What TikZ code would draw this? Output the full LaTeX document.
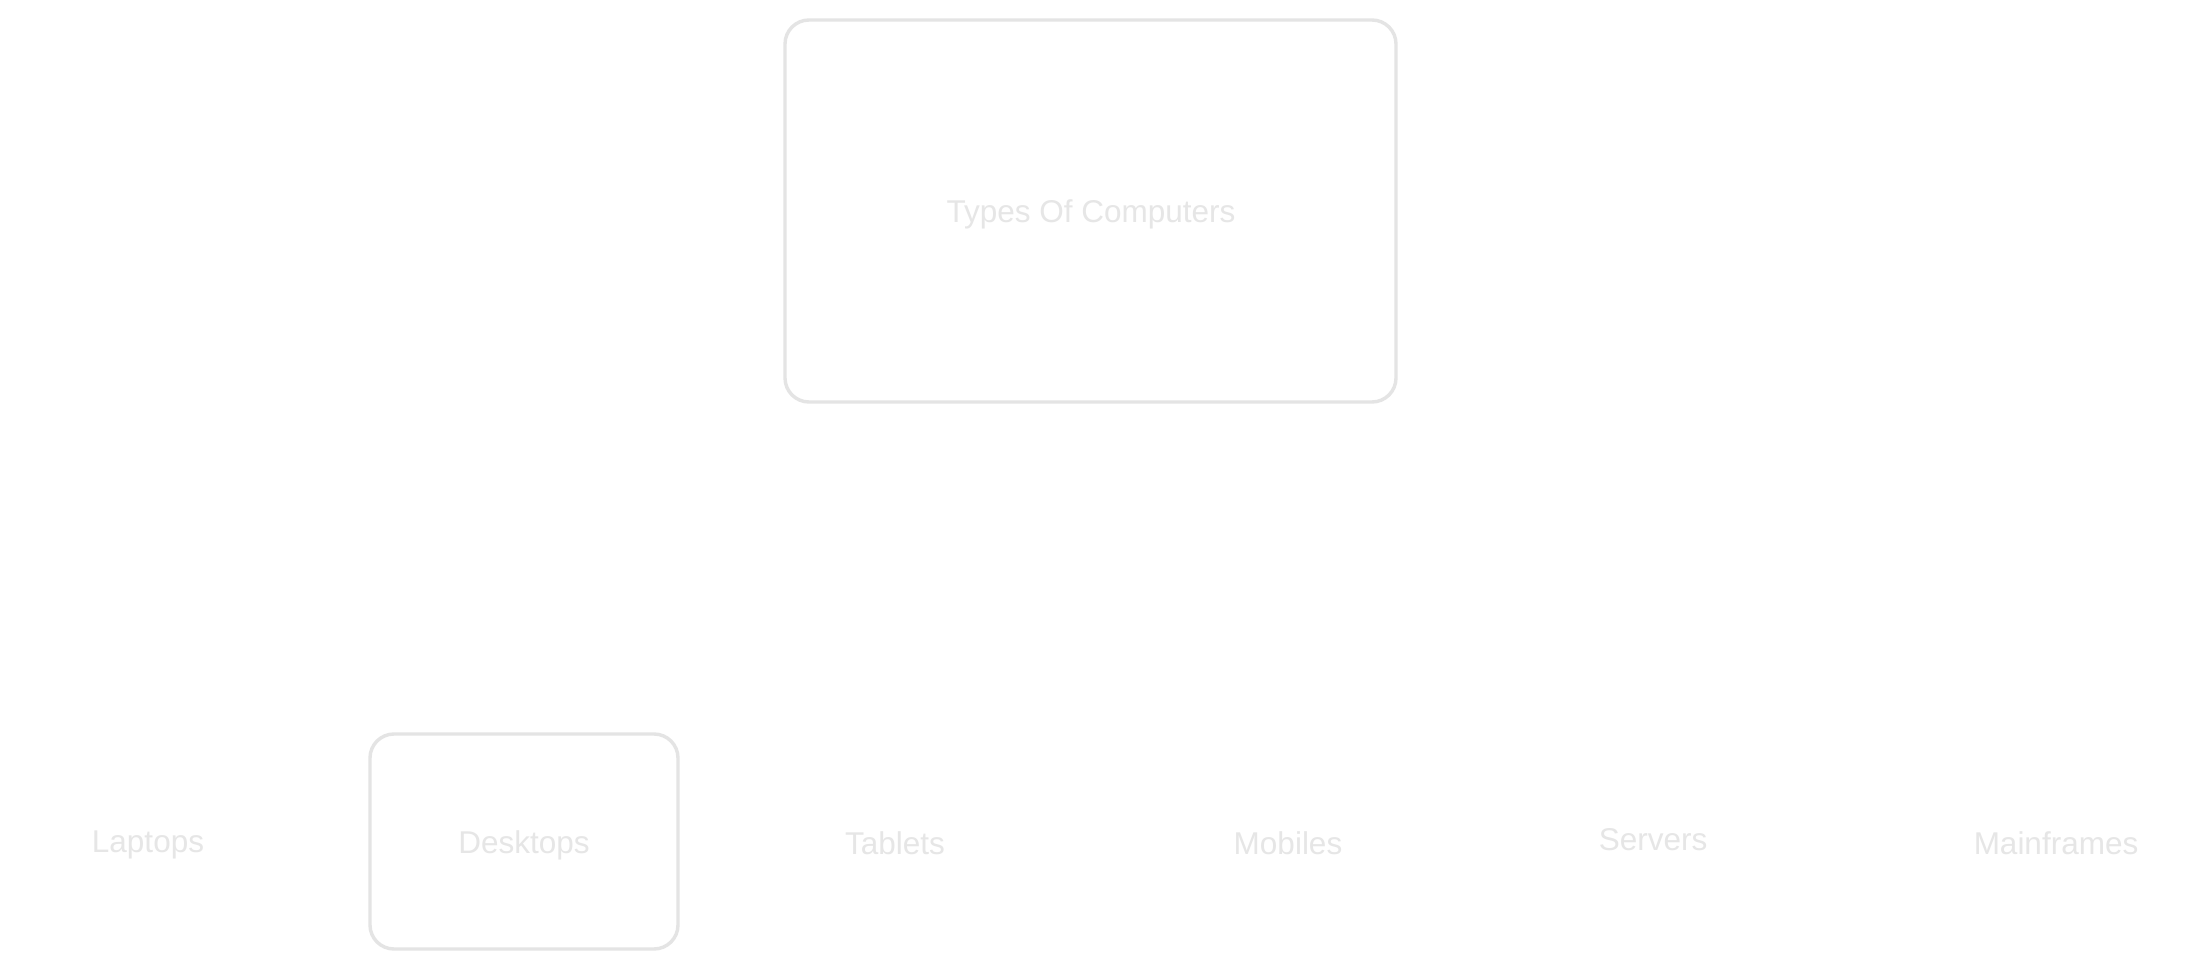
\documentclass[tikz,border=0pt]{standalone}
\usepackage{fontspec}
\setmainfont{Liberation Sans}
\definecolor{faint}{HTML}{E6E6E6}
\definecolor{faintline}{HTML}{E4E4E4}
\begin{document}
\begin{tikzpicture}[x=1pt,y=-1pt,
  lbl/.style={text=faint,font=\fontsize{31.5}{36}\selectfont,inner sep=0pt},
  boxed/.style={draw=faintline,line width=3.4pt,rounded corners=24pt}]
\useasboundingbox (0,0) rectangle (2198,973);
\fill[white] (0,0) rectangle (2198,973);
\draw[boxed] (785,20) rectangle (1396,402);
\node[lbl] (root) at (1091,214) {Types Of Computers};
\draw[boxed] (370,734) rectangle (678,949);
\node[lbl] (laptops) at (148,845) {Laptops};
\node[lbl] (desktops) at (524,845) {Desktops};
\node[lbl] (tablets) at (895,843) {Tablets};
\node[lbl] (mobiles) at (1288,843) {Mobiles};
\node[lbl] (servers) at (1653,840) {Servers};
\node[lbl] (mainframes) at (2056,843) {Mainframes};
\end{tikzpicture}
\end{document}
